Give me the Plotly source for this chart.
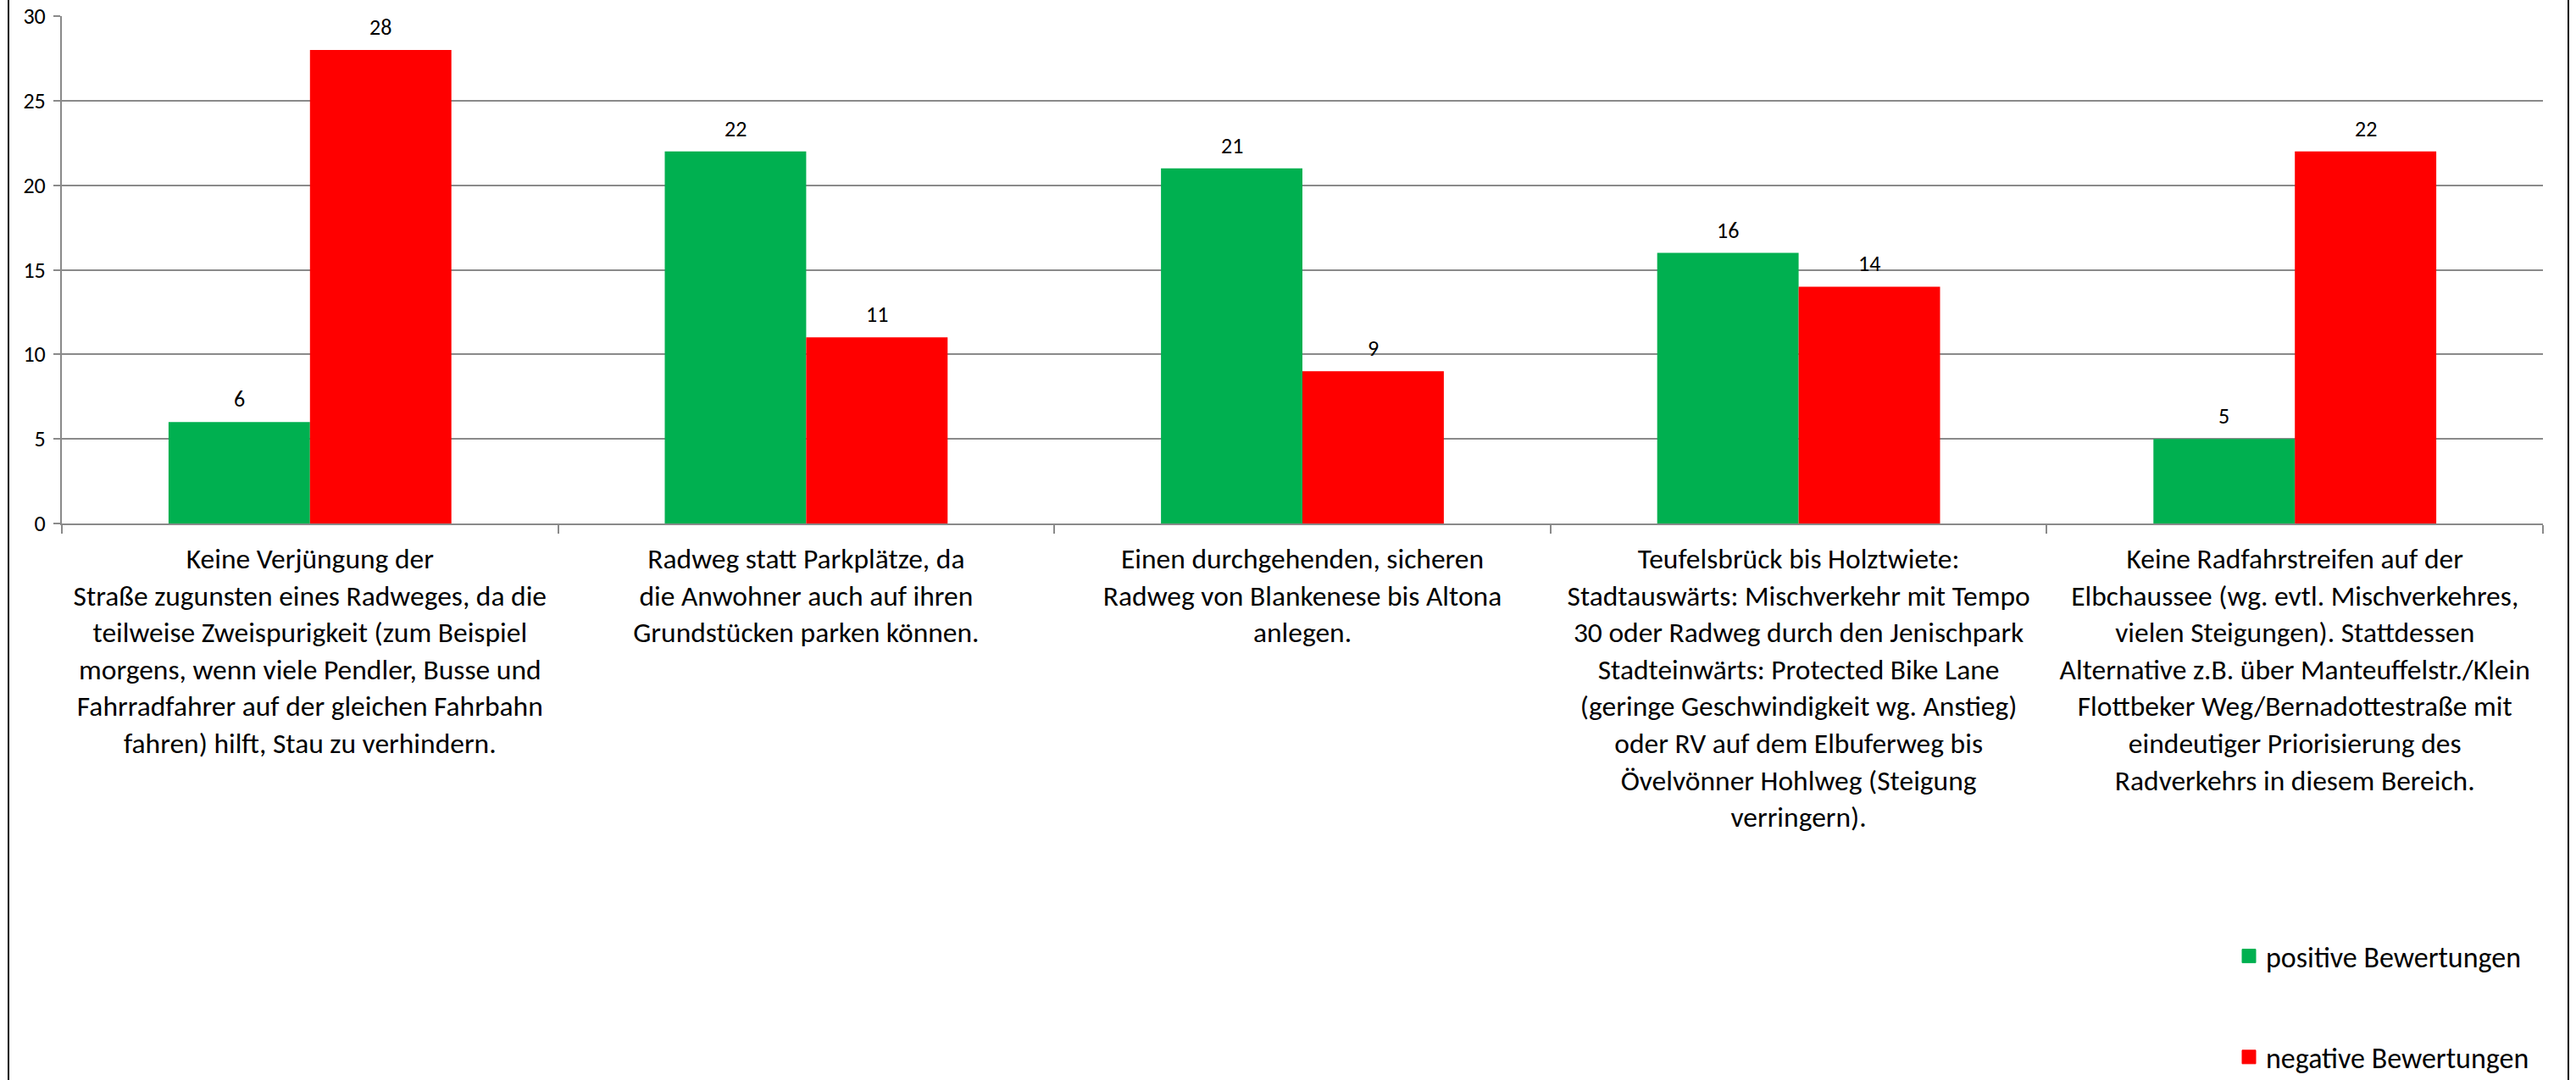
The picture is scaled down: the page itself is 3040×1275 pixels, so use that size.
import plotly.graph_objects as go

categories = [
    "Keine Verjüngung der Straße zugunsten eines Radweges",
    "Radweg statt Parkplätze",
    "Einen durchgehenden, sicheren Radweg",
    "Teufelsbrück bis Holztwiete",
    "Keine Radfahrstreifen auf der Elbchaussee",
]
tick_labels = [
    "Keine Verjüngung der<br>Straße zugunsten eines Radweges, da die<br>teilweise Zweispurigkeit (zum Beispiel<br>morgens, wenn viele Pendler, Busse und<br>Fahrradfahrer auf der gleichen Fahrbahn<br>fahren) hilft, Stau zu verhindern.",
    "Radweg statt Parkplätze, da<br>die Anwohner auch auf ihren<br>Grundstücken parken können.",
    "Einen durchgehenden, sicheren<br>Radweg von Blankenese bis Altona<br>anlegen.",
    "Teufelsbrück bis Holztwiete:<br>Stadtauswärts: Mischverkehr mit Tempo<br>30 oder Radweg durch den Jenischpark<br>Stadteinwärts: Protected Bike Lane<br>(geringe Geschwindigkeit wg. Anstieg)<br>oder RV auf dem Elbuferweg bis<br>Övelvönner Hohlweg (Steigung<br>verringern).",
    "Keine Radfahrstreifen auf der<br>Elbchaussee (wg. evtl. Mischverkehres,<br>vielen Steigungen). Stattdessen<br>Alternative z.B. über Manteuffelstr./Klein<br>Flottbeker Weg/Bernadottestraße mit<br>eindeutiger Priorisierung des<br>Radverkehrs in diesem Bereich.",
]
positive = [6, 22, 21, 16, 5]
negative = [28, 11, 9, 14, 22]
series_names = ["positive Bewertungen", "negative Bewertungen"]
y_ticks = [0, 5, 10, 15, 20, 25, 30]

GREEN = "#00B050"
RED = "#FF0000"
GRID = "#8a8a8a"
FONT = "Carlito, Calibri, Lato, sans-serif"

W, H = 3040, 1275
ML, MR, MT, MB = 73, 39, 19, 657
plot_w = W - ML - MR
bargap = 0.43
cat_w = plot_w / len(categories)
bar_w = cat_w * (1 - bargap) / 2

fig = go.Figure()
for name, vals, col, grp in [(series_names[0], positive, GREEN, "p"),
                             (series_names[1], negative, RED, "n")]:
    fig.add_trace(go.Bar(
        x=categories, y=vals, name=name, marker=dict(color=col, line=dict(width=0)),
        legendgroup=grp, showlegend=False,
    ))
# legend-only entries with larger square swatches
for name, col, grp in [(series_names[0], GREEN, "p"), (series_names[1], RED, "n")]:
    fig.add_trace(go.Scatter(
        x=[None], y=[None], mode="markers", name=name, legendgroup=grp,
        marker=dict(symbol="square", size=18, color=col, line=dict(width=1, color=col)),
        showlegend=True, hoverinfo="skip",
    ))

annotations = []
for i, c in enumerate(categories):
    for vals, sh in [(positive, -bar_w / 2), (negative, bar_w / 2)]:
        annotations.append(dict(
            x=c, y=vals[i], xref="x", yref="y", text=str(vals[i]),
            showarrow=False, xshift=sh, yshift=27, yanchor="middle",
            font=dict(family=FONT, size=26, color="black"),
        ))

fig.update_layout(
    width=W, height=H,
    margin=dict(l=ML, r=MR, t=MT, b=MB, pad=0, autoexpand=False),
    paper_bgcolor="white", plot_bgcolor="white",
    barmode="group", bargap=bargap, bargroupgap=0,
    font=dict(family=FONT, color="black"),
    annotations=annotations,
    showlegend=True,
    legend=dict(
        xref="container", yref="container",
        x=2634 / W, xanchor="left",
        y=1 - 1100 / H, yanchor="top",
        font=dict(family=FONT, size=34, color="black"),
        tracegroupgap=72, bgcolor="rgba(0,0,0,0)",
        traceorder="grouped",
    ),
    shapes=[dict(
        type="rect", xref="paper", yref="paper",
        x0=(10 - ML) / plot_w, x1=(3031 - ML) / plot_w,
        y0=-1.5, y1=1.2, line=dict(color="black", width=2),
        fillcolor="rgba(0,0,0,0)", layer="above",
    )],
)
fig.update_xaxes(
    tickvals=categories, ticktext=tick_labels,
    tickson="boundaries", ticks="outside", ticklen=10, tickcolor=GRID, tickwidth=2,
    showline=True, linecolor=GRID, linewidth=2,
    showgrid=False,
    tickfont=dict(family=FONT, size=33.5, color="black"),
    tickangle=0, ticklabelstandoff=11,
)
fig.update_yaxes(
    range=[0, 30], tickvals=y_ticks,
    ticks="outside", ticklen=8, tickcolor=GRID, tickwidth=2,
    showline=True, linecolor=GRID, linewidth=2,
    showgrid=True, gridcolor=GRID, gridwidth=2,
    zeroline=False,
    tickfont=dict(family=FONT, size=26, color="black"),
    ticklabelstandoff=4,
)

fig.write_html(
    "out.html",
    config={"displayModeBar": False},
    post_script="document.body.style.margin='0';document.body.style.overflow='hidden';",
)
